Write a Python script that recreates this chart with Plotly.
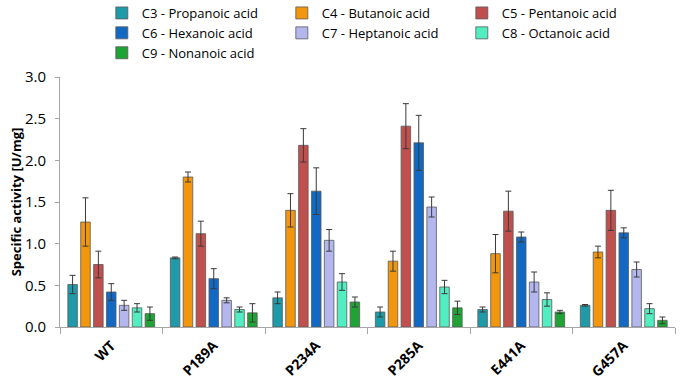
import plotly.graph_objects as go

categories = ["WT", "P189A", "P234A", "P285A", "E441A", "G457A"]

series_names = [
    "C3 - Propanoic acid", "C4 - Butanoic acid", "C5 - Pentanoic acid",
    "C6 - Hexanoic acid", "C7 - Heptanoic acid", "C8 - Octanoic acid",
    "C9 - Nonanoic acid",
]

c3 = [0.51, 0.83, 0.35, 0.18, 0.21, 0.26]
c4 = [1.26, 1.80, 1.40, 0.79, 0.88, 0.90]
c5 = [0.75, 1.12, 2.18, 2.41, 1.39, 1.40]
c6 = [0.42, 0.58, 1.63, 2.21, 1.08, 1.13]
c7 = [0.26, 0.32, 1.04, 1.44, 0.54, 0.69]
c8 = [0.23, 0.21, 0.54, 0.48, 0.33, 0.22]
c9 = [0.16, 0.17, 0.30, 0.23, 0.18, 0.08]

c3_err = [0.11, 0.01, 0.07, 0.06, 0.03, 0.01]
c4_err = [0.29, 0.06, 0.20, 0.12, 0.23, 0.07]
c5_err = [0.16, 0.15, 0.20, 0.27, 0.24, 0.24]
c6_err = [0.10, 0.12, 0.28, 0.33, 0.06, 0.06]
c7_err = [0.06, 0.03, 0.13, 0.12, 0.12, 0.09]
c8_err = [0.05, 0.03, 0.10, 0.08, 0.08, 0.06]
c9_err = [0.08, 0.11, 0.06, 0.08, 0.02, 0.04]

values = [c3, c4, c5, c6, c7, c8, c9]
errors = [c3_err, c4_err, c5_err, c6_err, c7_err, c8_err, c9_err]
colors = ["#1E9AA8", "#F2960E", "#C0504D", "#1169C4", "#B3B7EE", "#52EDC0", "#1FA334"]

fig = go.Figure()
for name, v, e, c in zip(series_names, values, errors, colors):
    fig.add_trace(go.Bar(
        x=categories, y=v, name=name,
        marker=dict(color=c, line=dict(color="#595959", width=0.8)),
        error_y=dict(type="data", array=e, visible=True, color="#3A3A3A",
                     thickness=1, width=3),
    ))

font_family = "Open Sans, DejaVu Sans, sans-serif"

fig.update_layout(
    width=680, height=385,
    margin=dict(l=60, r=5, t=77, b=58, autoexpand=False),
    paper_bgcolor="white", plot_bgcolor="white",
    barmode="group", bargap=0.12, bargroupgap=0.26,
    font=dict(family=font_family, size=13, color="#000000"),
    showlegend=True,
    legend=dict(
        orientation="h", x=0.068, xanchor="left", y=1.316, yanchor="top",
        entrywidth=135, entrywidthmode="pixels", itemwidth=30,
        font=dict(family=font_family, size=13, color="#000000"),
        traceorder="normal", bgcolor="rgba(0,0,0,0)",
    ),
    xaxis=dict(
        showline=True, linecolor="#A6A6A6", linewidth=1,
        ticks="outside", tickson="boundaries", ticklen=6, tickcolor="#A6A6A6",
        tickangle=-45, automargin=False, ticklabelstandoff=4,
        tickfont=dict(family=font_family, size=14, color="#000000", weight="bold"),
        showgrid=False,
    ),
    yaxis=dict(
        range=[0, 3.0], dtick=0.5, tickformat=".1f", automargin=False,
        showline=True, linecolor="#A6A6A6", linewidth=1,
        ticks="outside", ticklen=4, tickcolor="#A6A6A6", ticklabelstandoff=6,
        tickfont=dict(family=font_family, size=15, color="#000000"),
        showgrid=False, zeroline=False,
        title=dict(text="Specific activity [U/mg]",
                   font=dict(family=font_family, size=13, color="#000000", weight="bold"),
                   standoff=0),
    ),
)

fig.write_html("out.html", config={"displayModeBar": False},
               post_script="document.body.style.margin='0px';")
